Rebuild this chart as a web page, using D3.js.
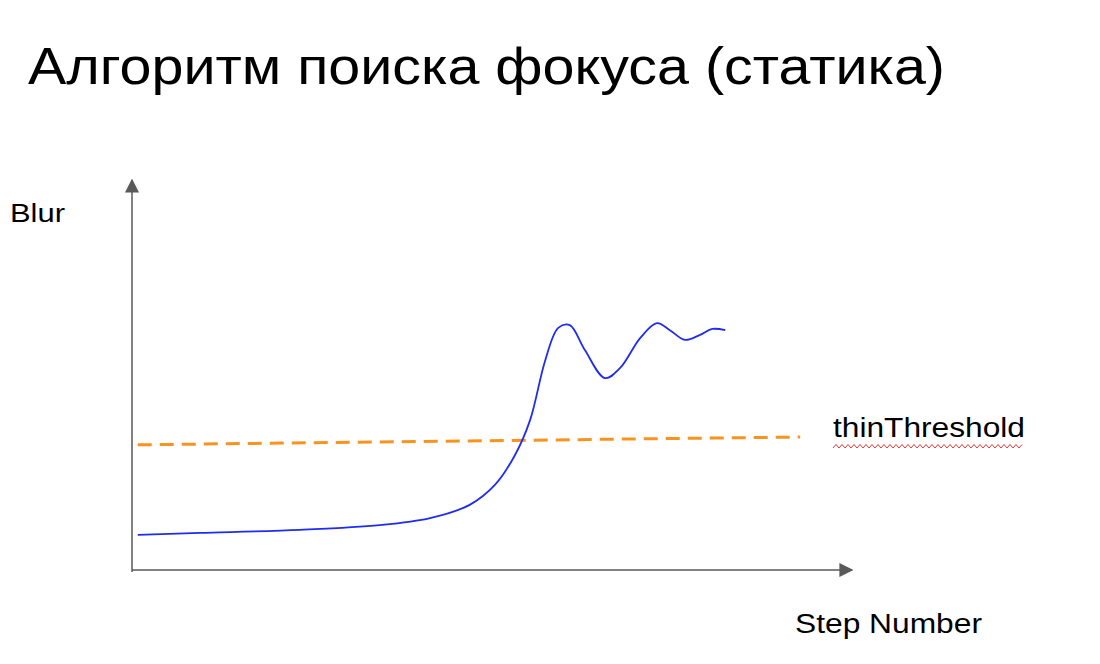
<!DOCTYPE html>
<html><head><meta charset="utf-8">
<script src="https://cdn.jsdelivr.net/npm/d3@7"></script>
<style>body{margin:0;background:#fff}</style></head>
<body><svg id="c" width="1100" height="664"></svg>
<script>
const title = "Алгоритм поиска фокуса (статика)";
const steps = [0.8,9.4,23.3,34.4,41.4,46.9,50.4,53.2,55.3,57.4,59.2,60.8,62.9,65.7,67.8,70.6,72.9,74.7,76.8,78.9,80.6,82.4];
const blur  = [9.0,9.5,10.3,11.5,13.3,16.7,21.8,29.5,38.5,53.8,62.1,62.8,56.4,49.2,51.8,59.5,63.3,61.5,59.0,60.3,61.8,61.5];
const thresholdSteps = [0.8, 92.8];
const thresholdValues = [32.1, 34.1];

const svg = d3.select("#c");
const font = "Liberation Sans, Arial, sans-serif";
const x = d3.scaleLinear().domain([0,100]).range([132,852]);
const y = d3.scaleLinear().domain([0,100]).range([570,180]);

function txt(t,px,py,size,len){
  svg.append("text").attr("x",px).attr("y",py).attr("font-family",font).attr("font-size",size)
   .attr("textLength",len).attr("lengthAdjust","spacingAndGlyphs").text(t);
}
txt(title,28,84,52,917);

const defs = svg.append("defs");
defs.append("marker").attr("id","ar").attr("viewBox","0 0 10 10").attr("refX",9).attr("refY",5)
 .attr("markerWidth",14).attr("markerHeight",14).attr("markerUnits","userSpaceOnUse").attr("orient","auto")
 .append("path").attr("d","M0,0L10,5L0,10Z").attr("fill","#595959");

svg.append("line").attr("x1",x(0)).attr("y1",y(-0.5)).attr("x2",x(0)).attr("y2",y(100))
 .attr("stroke","#595959").attr("stroke-width",1.5).attr("marker-end","url(#ar)");
svg.append("line").attr("x1",x(0)).attr("y1",y(0)).attr("x2",x(100)).attr("y2",y(0))
 .attr("stroke","#595959").attr("stroke-width",1.5).attr("marker-end","url(#ar)");

svg.append("path").datum(thresholdSteps.map((s,i)=>[s,thresholdValues[i]]))
 .attr("d",d3.line().x(d=>x(d[0])).y(d=>y(d[1])))
 .attr("stroke","#f7931e").attr("stroke-width",3).attr("stroke-dasharray","14,8").attr("fill","none");

svg.append("path").datum(steps.map((s,i)=>[s,blur[i]]))
 .attr("d",d3.line().x(d=>x(d[0])).y(d=>y(d[1])).curve(d3.curveCatmullRom))
 .attr("stroke","#1f2cf0").attr("stroke-width",1.8).attr("fill","none");

txt("Blur",10,222,26,55);
txt("Step Number",795,633,27,187);
txt("thinThreshold",833,437,27,192);
svg.append("path").attr("d",d3.range(833,1025,3).map((px,i)=>(i?"L":"M")+px+","+(i%2?444.5:448)).join(""))
 .attr("stroke","#e53935").attr("stroke-width",1).attr("fill","none");
</script></body></html>
